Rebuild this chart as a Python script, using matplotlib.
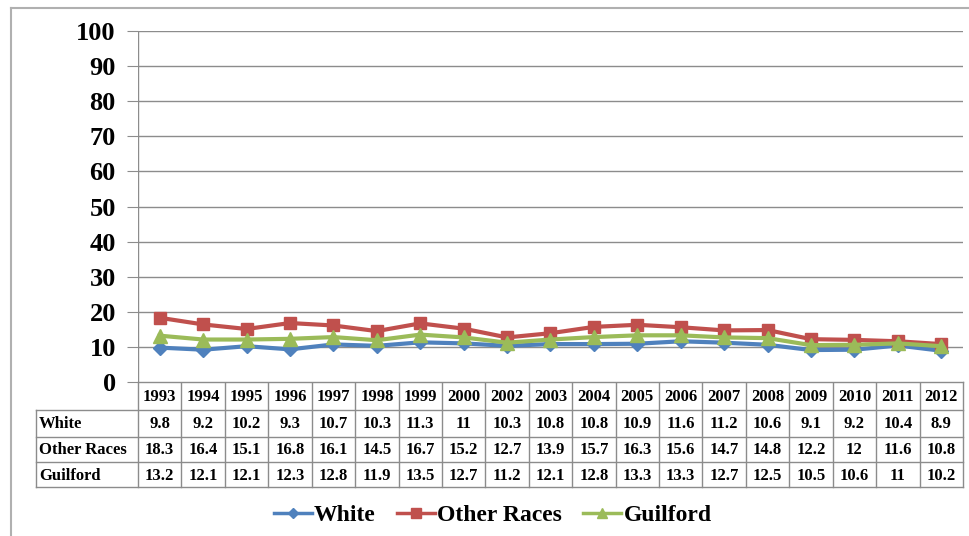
import matplotlib
matplotlib.use("Agg")
import matplotlib.pyplot as plt
from matplotlib.lines import Line2D

years = ["1993", "1994", "1995", "1996", "1997", "1998", "1999", "2000", "2002", "2003",
         "2004", "2005", "2006", "2007", "2008", "2009", "2010", "2011", "2012"]
white = [9.8, 9.2, 10.2, 9.3, 10.7, 10.3, 11.3, 11, 10.3, 10.8,
         10.8, 10.9, 11.6, 11.2, 10.6, 9.1, 9.2, 10.4, 8.9]
other = [18.3, 16.4, 15.1, 16.8, 16.1, 14.5, 16.7, 15.2, 12.7, 13.9,
         15.7, 16.3, 15.6, 14.7, 14.8, 12.2, 12, 11.6, 10.8]
guilford = [13.2, 12.1, 12.1, 12.3, 12.8, 11.9, 13.5, 12.7, 11.2, 12.1,
            12.8, 13.3, 13.3, 12.7, 12.5, 10.5, 10.6, 11, 10.2]
yticks = [0, 10, 20, 30, 40, 50, 60, 70, 80, 90, 100]

series = [
    ("White", white, "#4F81BD", "D", 7),
    ("Other Races", other, "#C0504D", "s", 9),
    ("Guilford", guilford, "#9BBB59", "^", 10),
]

W, H = 970, 536
FONT = "Liberation Serif"
GRID = "#8c8c8c"

fig = plt.figure(figsize=(W / 100, H / 100), dpi=100)

# pixel geometry of the plot area
x0, x1 = 138, 963
ytop, ybot = 31, 382
ax = fig.add_axes([x0 / W, 1 - ybot / H, (x1 - x0) / W, (ybot - ytop) / H])
n = len(years)
xs = [i + 0.5 for i in range(n)]
ax.set_xlim(0, n)
ax.set_ylim(0, 100)
for y in yticks:
    ax.axhline(y, color=GRID, lw=1.0, zorder=1)
for name, vals, col, mk, ms in series:
    ax.plot(xs, vals, color=col, lw=3, marker=mk, ms=ms, zorder=3)
for s in ax.spines.values():
    s.set_visible(False)
ax.axvline(0, color=GRID, lw=1.0)
ax.set_xticks([])
ax.set_yticks(yticks)
ax.tick_params(axis="y", length=8, color=GRID, pad=8)
for t in ax.get_yticklabels():
    t.set_fontfamily(FONT)
    t.set_fontweight("bold")
    t.set_fontsize(19)

# overlay in pixel coordinates for the table, border and legend
ov = fig.add_axes([0, 0, 1, 1], zorder=-1)
ov.set_xlim(0, W)
ov.set_ylim(H, 0)
ov.axis("off")

ov.plot([11, W], [8, 8], color="#b0b0b0", lw=1.5)
ov.plot([11, 11], [8, H], color="#b0b0b0", lw=1.5)

cw = (x1 - x0) / n
lab_x = 36
rows_y = [382, 410, 437, 462, 487]
tcol = GRID
# horizontal lines
ov.plot([x0, x1], [rows_y[0], rows_y[0]], color=tcol, lw=1)
for yy in rows_y[1:]:
    ov.plot([lab_x, x1], [yy, yy], color=tcol, lw=1)
# vertical lines
ov.plot([lab_x, lab_x], [rows_y[1], rows_y[-1]], color=tcol, lw=1)
for i in range(n + 1):
    xx = x0 + i * cw
    ov.plot([xx, xx], [rows_y[0], rows_y[-1]], color=tcol, lw=1)

tkw = dict(fontfamily=FONT, fontweight="bold", fontsize=12, va="center")
for i, yr in enumerate(years):
    cx = x0 + (i + 0.5) * cw
    ov.text(cx, (rows_y[0] + rows_y[1]) / 2 + 1, yr, ha="center", **tkw)
for r, (name, vals, col, mk, ms) in enumerate(series):
    cy = (rows_y[r + 1] + rows_y[r + 2]) / 2 + 1
    ov.text(lab_x + 3, cy, name, ha="left", **tkw)
    for i, v in enumerate(vals):
        cx = x0 + (i + 0.5) * cw
        ov.text(cx, cy, f"{v:g}", ha="center", **tkw)

handles = [Line2D([0], [0], color=col, lw=2.5, marker=mk, ms=ms * 0.75)
           for name, vals, col, mk, ms in series]
fig.legend(handles, [s[0] for s in series], loc="center",
           bbox_to_anchor=(0.508, 1 - 515 / H), ncol=3, frameon=False,
           prop={"family": FONT, "weight": "bold", "size": 17},
           handlelength=1.6, handletextpad=0.1, columnspacing=0.9)

fig.savefig("out.png", dpi=100)
